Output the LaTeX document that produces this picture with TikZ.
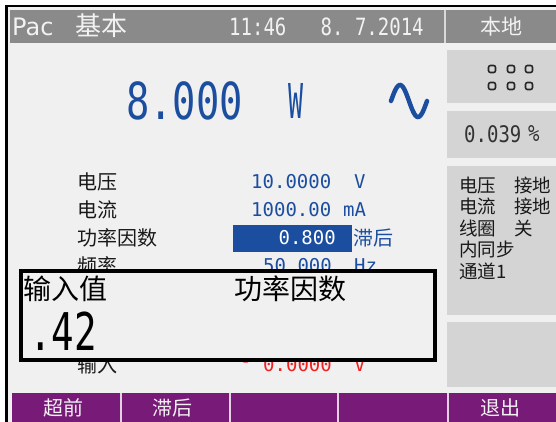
\documentclass[tikz,border=0pt]{standalone}
\usepackage{fontspec}
\usepackage{tikz}
\setmainfont{DejaVu Sans}
\newfontfamily\cjk{Noto Sans CJK SC}
\newfontfamily\lcd{DejaVu Sans Mono}
\definecolor{screenbg}{RGB}{240,240,240}
\definecolor{titlebar}{RGB}{138,138,138}
\definecolor{panelbox}{RGB}{212,212,212}
\definecolor{lcdblue}{RGB}{28,78,160}
\definecolor{softkey}{RGB}{120,26,120}
\definecolor{lcdred}{RGB}{238,32,32}
\definecolor{titletext}{RGB}{242,242,242}

\begin{document}
\begin{tikzpicture}[x=1pt,y=-1pt,inner sep=0pt]
    \tikzstyle{every node}=[inner sep=0pt]
    \tikzstyle{title text}=[text=titletext]
    \tikzstyle{row name}=[anchor=west,font=\cjk\fontsize{20}{20}\selectfont,text=black!90]
    \tikzstyle{row value}=[anchor=west,font=\lcd\fontsize{19}{19}\selectfont,text=lcdblue]
    \tikzstyle{side text}=[anchor=west,font=\cjk\fontsize{18.5}{18.5}\selectfont,text=black!90]
    \tikzstyle{side box}=[fill=panelbox]
    \tikzstyle{key text}=[font=\cjk\fontsize{20}{20}\selectfont,text=titletext]
    \tikzstyle{led}=[draw=black!85,line width=1.6pt,rounded corners=2pt]
    \useasboundingbox (0,0) rectangle (556,422);

    % Screen frame and background
    \fill[white] (0,0) rectangle (556,422);
    \fill[black] (5,5) rectangle (556,7);
    \fill[black] (5,5) rectangle (8,422);
    \fill[screenbg] (8,7) rectangle (556,422);

    % Title bar
    \fill[titlebar] (10,10) rectangle (556,43);
    \draw[black!15,line width=1.5pt] (445,10) -- (445,43);
    \node[title text,anchor=west,font=\fontsize{24}{24}\selectfont] (mode) at (12,27) {Pac};
    \node[title text,anchor=west,font=\cjk\fontsize{26}{26}\selectfont] (basic) at (75,26) {基本};
    \node[title text,anchor=west,font=\lcd\fontsize{19}{19}\selectfont,yscale=1.25] (clock) at (229,27) {11:46\ \ \ 8.\ 7.2014};
    \node[title text,font=\cjk\fontsize{21}{21}\selectfont] (local) at (501,27) {本地};

    % Main reading
    \node[anchor=west,font=\lcd\fontsize{51}{51}\selectfont,text=lcdblue,xscale=0.76] (reading) at (126,101) {8.000};
    \node[font=\lcd\fontsize{48}{48}\selectfont,text=lcdblue,xscale=0.52] (unit) at (296,101) {W};
    \draw[lcdblue,line width=4.5pt,line cap=round] plot[domain=0:360,samples=40,smooth] ({391+\x/10},{101-16*sin(\x)});

    % Setting rows
    \foreach \name/\y [count=\i] in {电压/182,电流/210,功率因数/238,频率/266}
        \node[row name] (name-\i) at (77,\y) {\name};
    \node[row value] (volt) at (251,182) {10.0000};
    \node[row value] (volt-unit) at (354,182) {V};
    \node[row value] (amp) at (251,210) {1000.00};
    \node[row value] (amp-unit) at (343,210) {mA};
    \fill[lcdblue] (233,225) rectangle (352,252);
    \node[row value,anchor=east,text=white] (pf) at (336,238) {0.800};
    \node[row name,text=lcdblue] (lag) at (353,238) {滞后};
    \node[row value] (freq) at (263,266) {50.000};
    \node[row value] (freq-unit) at (354,266) {Hz};

    % Row partly under the entry box
    \node[row name] (name-5) at (77,365) {输入};
    \node[row value,text=lcdred] (sign) at (240,365) {-};
    \node[row value,text=lcdred] (input) at (263,365) {0.0000};
    \node[row value,text=lcdred] (input-unit) at (354,365) {V};

    % Entry box
    \draw[line width=4pt,fill=screenbg] (20.5,270.5) rectangle (434.5,359.5);
    \node[anchor=west,font=\cjk\fontsize{28}{28}\selectfont] (entry) at (23,289) {输入值};
    \node[anchor=west,font=\cjk\fontsize{28}{28}\selectfont] (entry-name) at (234,289) {功率因数};
    \node[anchor=west,font=\lcd\fontsize{52}{52}\selectfont,xscale=0.72] (entry-value) at (29,331) {.42};

    % Right panel
    \foreach \top/\bottom in {50/103,111/158,166/315,322/387}
        \fill[side box] (447,\top) rectangle (556,\bottom);
    \foreach \col in {492,511,529}
        \foreach \row in {69,86}
            \draw[led] (\col-3.5,\row-3.5) rectangle (\col+3.5,\row+3.5);
    \node[anchor=west,font=\lcd\fontsize{19}{19}\selectfont,yscale=1.2,text=black!80] (unc) at (464,134) {0.039};
    \node[anchor=west,font=\lcd\fontsize{19}{19}\selectfont,yscale=1.2,text=black!80] (unc-unit) at (528,134) {\%};
    \foreach \txt/\y [count=\i] in {电压/185,电流/206.5,线圈/228,内同步/249.5,通道1/271}
        \node[side text] (side-\i) at (459,\y) {\txt};
    \foreach \txt/\y [count=\i] in {接地/185,接地/206.5,关/228}
        \node[side text] (state-\i) at (514,\y) {\txt};

    % Soft keys
    \fill[softkey] (12,393) rectangle (556,422);
    \foreach \x in {121,230,338,448}
        \draw[white!80!softkey,line width=1.5pt] (\x,393) -- (\x,422);
    \foreach \txt/\x [count=\i] in {超前/63,滞后/172,退出/500}
        \node[key text] (key-\i) at (\x,408) {\txt};
\end{tikzpicture}
\end{document}
